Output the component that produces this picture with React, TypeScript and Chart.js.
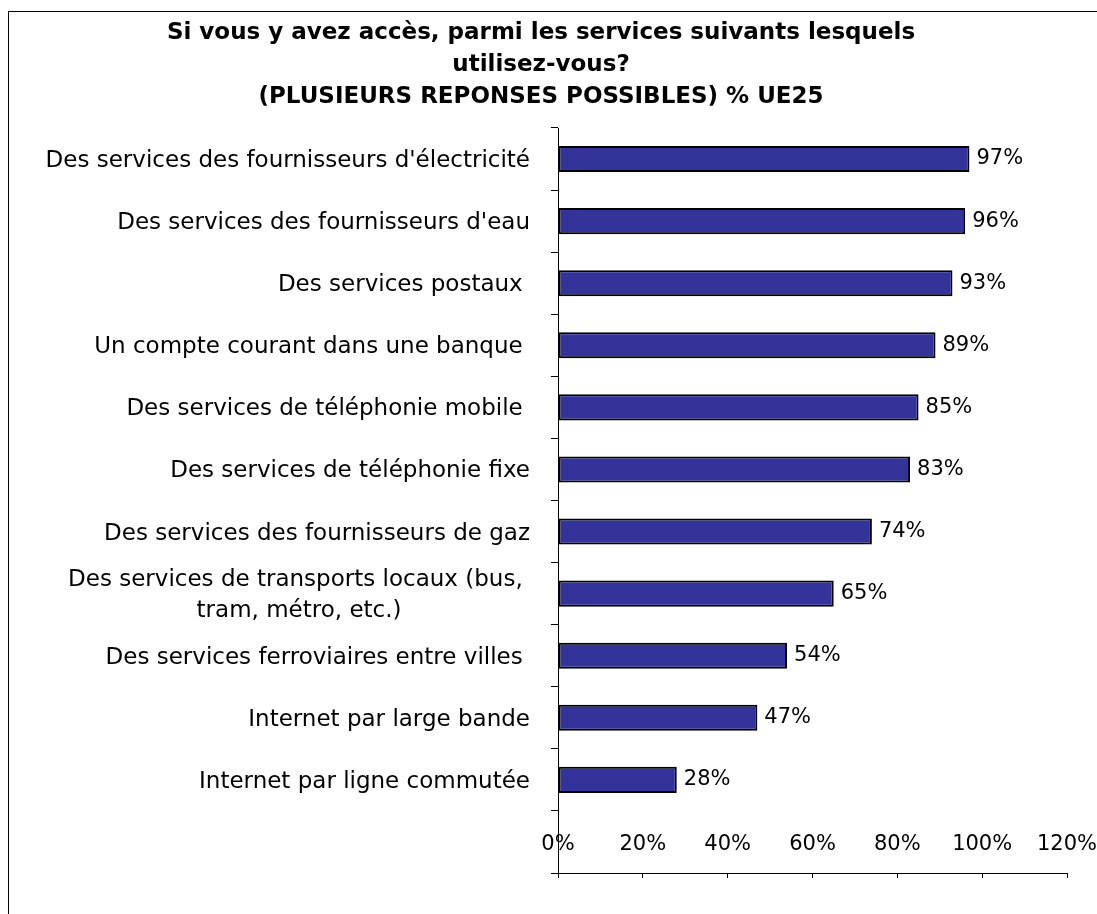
import React, { useEffect, useRef } from "react";
import { Chart, registerables } from "chart.js";

Chart.register(...registerables);

// ---- Data ----
const titleLines: string[] = [
  "Si vous y avez accès, parmi les services suivants lesquels",
  "utilisez-vous?",
  "(PLUSIEURS REPONSES POSSIBLES) % UE25",
];

const categories: (string | string[])[] = [
  "Des services des fournisseurs d'électricité",
  "Des services des fournisseurs d'eau",
  "Des services postaux ",
  "Un compte courant dans une banque ",
  "Des services de téléphonie mobile ",
  "Des services de téléphonie fixe",
  "Des services des fournisseurs de gaz",
  ["Des services de transports locaux (bus, ", "tram, métro, etc.)"],
  "Des services ferroviaires entre villes ",
  "Internet par large bande",
  "Internet par ligne commutée",
];

const values: number[] = [97, 96, 93, 89, 85, 83, 74, 65, 54, 47, 28];

const xTickValues: number[] = [0, 20, 40, 60, 80, 100, 120];

const FONT = '"DejaVu Sans", Verdana, sans-serif';
const LABEL_SIZE = 23;
const VALUE_SIZE = 21;

export default function App() {
  const canvasRef = useRef<HTMLCanvasElement | null>(null);

  useEffect(() => {
    const canvas = canvasRef.current;
    if (!canvas) return;

    // The original axis leaves one empty category slot under the last bar,
    // where the value-axis labels sit.
    const labels = [...categories, ""];
    const data = [...values, null];

    const axisLabelsPlugin = {
      id: "axisLabels",
      afterDraw(chart: any) {
        const ctx = chart.ctx;
        const ys = chart.scales.y;
        const xs = chart.scales.x;
        const right = chart.chartArea.left - 28;
        ctx.save();
        ctx.fillStyle = "#000";
        ctx.textBaseline = "middle";
        // category labels: each block right-aligned, its lines centred
        ctx.font = `${LABEL_SIZE}px ${FONT}`;
        ctx.textAlign = "center";
        categories.forEach((lab, i) => {
          const lines = Array.isArray(lab) ? lab : [lab];
          const w = Math.max(...lines.map((l) => ctx.measureText(l).width));
          const cx = right - w / 2;
          const yc = ys.getPixelForValue(i) + 2;
          const lh = 31;
          lines.forEach((l, j) => {
            ctx.fillText(l, cx, yc + (j - (lines.length - 1) / 2) * lh);
          });
        });
        // value-axis tick labels, drawn above the axis line as in the original
        ctx.font = `${VALUE_SIZE}px ${FONT}`;
        ctx.textAlign = "center";
        const ly = chart.chartArea.bottom - 28;
        xs.ticks.forEach((t: any) => {
          ctx.fillText(`${t.value}%`, xs.getPixelForValue(t.value), ly);
        });
        ctx.restore();
      },
    };

    const valueLabelsPlugin = {
      id: "valueLabels",
      afterDatasetsDraw(chart: any) {
        const ctx = chart.ctx;
        const meta = chart.getDatasetMeta(0);
        ctx.save();
        ctx.font = `${VALUE_SIZE}px ${FONT}`;
        ctx.fillStyle = "#000";
        ctx.textAlign = "left";
        ctx.textBaseline = "middle";
        meta.data.forEach((bar: any, i: number) => {
          const v = values[i];
          if (v === undefined || v === null) return;
          ctx.fillText(`${v}%`, bar.x + 7, bar.y);
        });
        ctx.restore();
      },
    };

    const chart = new Chart(canvas, {
      type: "bar",
      data: {
        labels,
        datasets: [
          {
            data,
            backgroundColor: "#333399",
            borderColor: "#000000",
            borderWidth: 2,
            borderSkipped: false,
            barPercentage: 0.42,
            categoryPercentage: 1,
          },
        ],
      },
      options: {
        indexAxis: "y",
        responsive: false,
        animation: false,
        devicePixelRatio: 1,
        layout: { padding: { left: 15, right: 30, top: 0, bottom: 0 } },
        plugins: {
          legend: { display: false },
          tooltip: { enabled: false },
          title: {
            display: true,
            text: titleLines,
            color: "#000",
            font: { family: FONT, size: 23, weight: "bold", lineHeight: "32px" } as any,
            padding: { top: 17, bottom: 15 },
          },
        },
        scales: {
          x: {
            type: "linear",
            position: "bottom",
            min: 0,
            max: 120,
            afterBuildTicks: (scale: any) => {
              scale.ticks = xTickValues.map((v) => ({ value: v }));
            },
            afterFit: (scale: any) => {
              scale.height = 41;
            },
            grid: {
              drawOnChartArea: false,
              drawTicks: true,
              tickLength: 5,
              color: "#000",
              lineWidth: 1,
            },
            border: { display: true, color: "#000", width: 1 },
            ticks: { display: false },
          },
          y: {
            type: "category",
            position: "left",
            afterFit: (scale: any) => {
              scale.width = 543;
            },
            grid: {
              offset: true,
              drawOnChartArea: false,
              drawTicks: true,
              tickLength: 7,
              color: "#000",
              lineWidth: 1,
            },
            border: { display: true, color: "#000", width: 1 },
            ticks: { display: false },
          },
        },
      },
      plugins: [valueLabelsPlugin, axisLabelsPlugin],
    } as any);

    return () => {
      chart.destroy();
    };
  }, []);

  return (
    <div
      style={{
        position: "fixed",
        left: 0,
        top: 0,
        width: 1097,
        height: 914,
        background: "#fff",
        overflow: "hidden",
      }}
    >
      <div
        style={{
          position: "absolute",
          left: 8,
          top: 11,
          width: 1097,
          height: 914,
          borderLeft: "1px solid #000",
          borderTop: "1px solid #000",
        }}
      />
      <canvas
        ref={canvasRef}
        width={1097}
        height={914}
        style={{ position: "absolute", left: 0, top: 0, width: 1097, height: 914 }}
      />
    </div>
  );
}
